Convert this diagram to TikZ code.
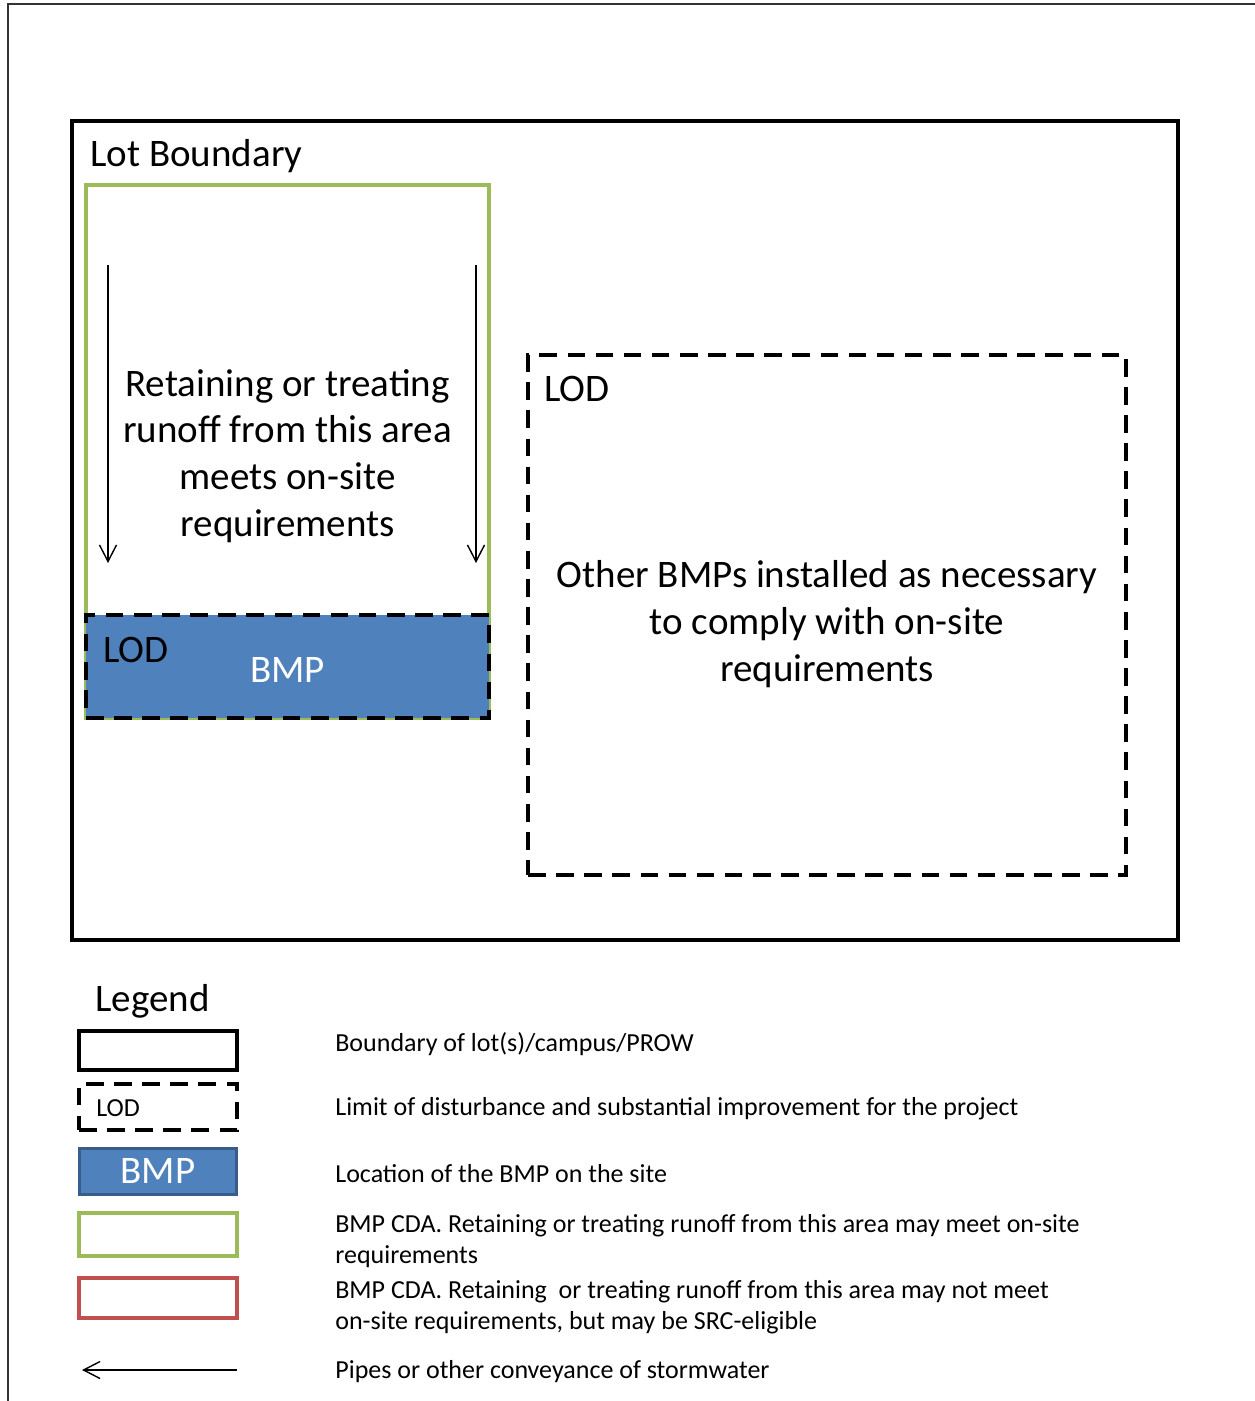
\documentclass[tikz,border=0pt]{standalone}
\usepackage{fontspec}
\setmainfont{Carlito}
\usepackage{xcolor}
\usetikzlibrary{arrows.meta,positioning}
\definecolor{bmpblue}{HTML}{4F81BD}
\definecolor{bmpedge}{HTML}{385D8A}
\definecolor{cdagreen}{HTML}{9BBB59}
\definecolor{cdared}{HTML}{C0504D}

\begin{document}
\begin{tikzpicture}[x=0.02cm, y=-0.02cm,
  size/.style 2 args={minimum width=#1cm, minimum height=#2cm, inner sep=0pt},
  lot/.style={draw, line width=2.3pt},
  lod/.style={draw, line width=2.4pt, dash pattern=on 10pt off 6pt},
  cda/.style={draw=#1, line width=1.8pt},
  cda/.default=cdagreen,
  bmp/.style={fill=bmpblue},
  big/.style={font=\fontsize{22.2}{26.6}\selectfont, align=center},
  lbl/.style={font=\fontsize{14.8}{17.6}\selectfont, anchor=west, inner sep=0pt, align=left},
  pipe/.style={-{Straight Barb[length=3.3mm, width=3.4mm]}, line width=0.8pt}]
\useasboundingbox (0,0) rectangle (1255,1401);
\draw[line width=0.9pt, black!80] (8,1401) -- (8,4) -- (1255,4);

% site plan
\node[lot, size={22.12}{16.38}] (lot) at (625,530.5) {};
\node[big, anchor=west, inner sep=0pt] (lottxt) at (90,156) {Lot Boundary};
\node[cda, size={8.06}{10.66}] (cda) at (287.5,451.5) {};
\node[bmp, size={8.06}{2.06}] (bmp) at (287.5,666.5) {};
\node[lod, size={8.06}{2.06}] (bmplod) at (287.5,666.5) {};
\node[big, anchor=west, inner sep=0pt] at (103,650) {LOD};
\node[big, text=white, inner sep=0pt] at (287.5,670) {BMP};
\node[big] (cdatxt) at (287.5,456) {Retaining or treating\\runoff from this area\\meets on-site\\requirements};
\coordinate (l1) at (108,265); \coordinate (l2) at (108,563);
\coordinate (r1) at (476,265); \coordinate (r2) at (476,563);
\draw[pipe] (l1)--(l2); \draw[pipe] (r1)--(r2);
\node[lod, size={11.96}{10.4}] (other) at (827,615) {};
\node[big, anchor=west, inner sep=0pt] at (544,389) {LOD};
\node[big] (othertxt) at (827,624) {Other BMPs installed as necessary\\to comply with on-site\\requirements};

% legend
\node[big, anchor=west, inner sep=0pt] (leg) at (95,1001) {Legend};
\node[lot, size={3.16}{0.78}] (k1) at (158,1050.5) {};
\node[lod, size={3.16}{0.92}] (k2) at (158,1107) {};
\node[lbl] at (96,1108) {LOD};
\node[bmp, draw=bmpedge, line width=1.7pt, size={3.16}{0.92}, text=white, big] (k3) at (158,1171) {BMP};
\node[cda, size={3.16}{0.86}] (k4) at (158,1234.5) {};
\node[cda=cdared, size={3.16}{0.8}] (k5) at (158,1298) {};
\coordinate (p1) at (237,1370); \coordinate (p2) at (82,1370);
\draw[pipe] (p1)--(p2);
\node[lbl] at (335,1044) {Boundary of lot(s)/campus/PROW};
\node[lbl] at (335,1109) {Limit of disturbance and substantial improvement for the project};
\node[lbl] at (335,1174) {Location of the BMP on the site};
\node[lbl] at (335,1241) {BMP CDA. Retaining or treating runoff from this area may meet on-site\\requirements};
\node[lbl] at (335,1307) {BMP CDA. Retaining\ \ or treating runoff from this area may not meet\\on-site requirements, but may be SRC-eligible};
\node[lbl] at (335,1372) {Pipes or other conveyance of stormwater};
\end{tikzpicture}
\end{document}
